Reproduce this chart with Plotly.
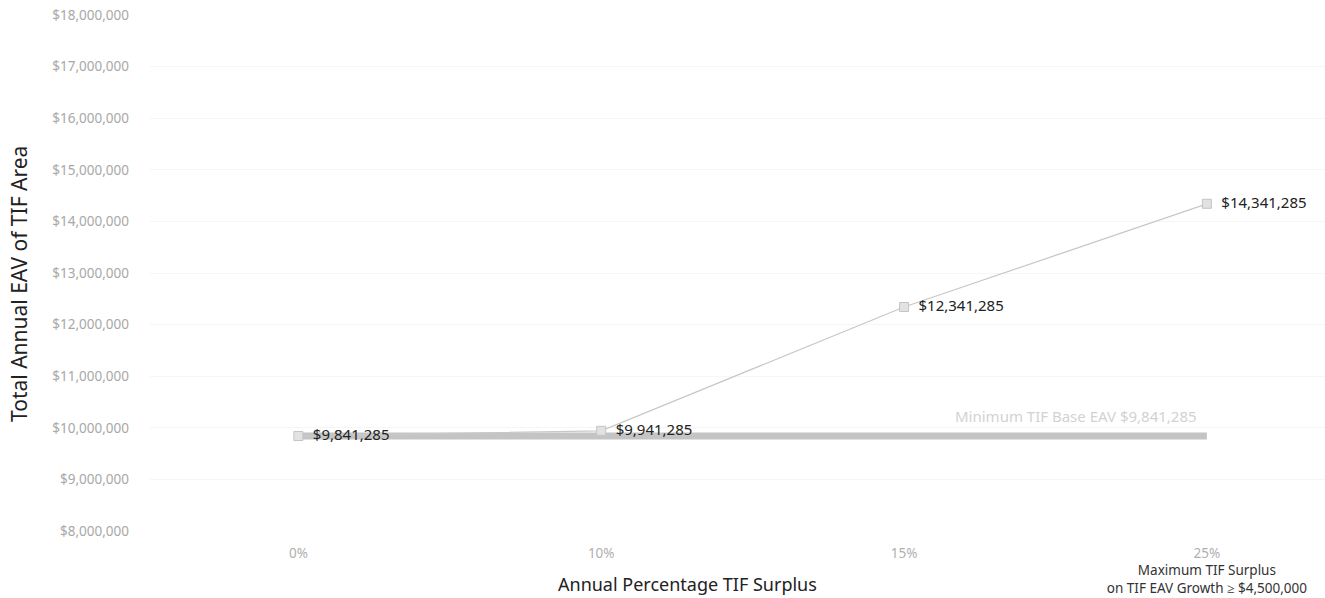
import plotly.graph_objects as go

categories = ["0%", "10%", "15%", "25%"]
surplus_eav = [9841285, 9941285, 12341285, 14341285]
base_eav = [9841285, 9841285, 9841285, 9841285]
surplus_labels = ["$9,841,285", "$9,941,285", "$12,341,285", "$14,341,285"]
base_label = "Minimum TIF Base EAV $9,841,285"
y_ticks = [8000000 + 1000000 * i for i in range(11)]
y_ticktext = ["${:,}".format(v) for v in y_ticks]
x_ticktext = [
    "<span style='color:#b0b0b0'>0%</span>",
    "<span style='color:#b0b0b0'>10%</span>",
    "<span style='color:#b0b0b0'>15%</span>",
    "<span style='color:#b0b0b0'>25%</span><br><span style='color:#333'>Maximum TIF Surplus</span><br><span style='color:#333'>on TIF EAV Growth ≥ $4,500,000</span>",
]
xs = list(range(len(categories)))

fig = go.Figure()
fig.add_trace(go.Scatter(
    x=xs, y=base_eav, mode="lines",
    line=dict(color="#c4c4c4", width=7),
    showlegend=False, hoverinfo="skip",
))
fig.add_trace(go.Scatter(
    x=xs, y=surplus_eav, mode="lines+markers+text",
    line=dict(color="#c8c8c8", width=1.3),
    marker=dict(symbol="square", size=9, color="#e2e2e2", line=dict(color="#c4c4c4", width=1)),
    text=["\u00a0\u00a0" + s for s in surplus_labels], textposition="middle right",
    textfont=dict(color="#222222", size=15, family="Noto Sans"),
    showlegend=False,
))

fig.update_layout(
    width=1325, height=598,
    margin=dict(l=150, r=0, t=15, b=67),
    plot_bgcolor="white", paper_bgcolor="white",
    font=dict(family="Noto Sans"),
    xaxis=dict(
        range=[-0.49, 3.39], tickmode="array", tickvals=xs, ticktext=x_ticktext,
        showgrid=False, zeroline=False, showline=False, ticks="", automargin=False,
        tickfont=dict(size=13.5, color="#b0b0b0"), ticklabelstandoff=12,
    ),
    yaxis=dict(
        range=[8000000, 18000000], tickmode="array", tickvals=y_ticks, ticktext=y_ticktext,
        showgrid=True, gridcolor="#f6f6f6", zeroline=False, showline=False, ticks="", automargin=False,
        tickfont=dict(size=13.5, color="#a8a8a8"), ticklabelstandoff=20,
    ),
    annotations=[
        dict(text=base_label, xref="x", yref="y", x=xs[-1], y=base_eav[-1],
             xanchor="right", yanchor="bottom", xshift=-8, yshift=8,
             showarrow=False, font=dict(size=15, color="#d2d2d2")),
        dict(text="Annual Percentage TIF Surplus", xref="paper", yref="paper",
             x=(687 - 150) / 1175, y=(531 - 584) / 516, xanchor="center", yanchor="middle",
             showarrow=False, font=dict(size=18, color="#222222")),
        dict(text="Total Annual EAV of TIF Area", xref="paper", yref="paper",
             x=(19 - 150) / 1175, y=(531 - 284) / 516, xanchor="center", yanchor="middle", textangle=-90,
             showarrow=False, font=dict(size=21, color="#222222")),
    ],
)

fig.write_html("out.html")
